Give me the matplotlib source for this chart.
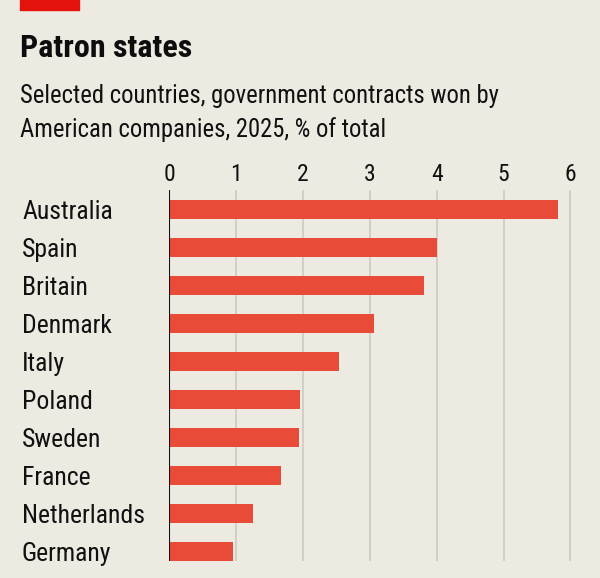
import matplotlib
matplotlib.use("Agg")
from matplotlib import pyplot as plt
from matplotlib import font_manager
from matplotlib.patches import Rectangle

countries = ["Australia", "Spain", "Britain", "Denmark", "Italy",
             "Poland", "Sweden", "France", "Netherlands", "Germany"]
shares = [5.81, 4.00, 3.81, 3.06, 2.54, 1.96, 1.94, 1.67, 1.25, 0.95]
xticks = [0, 1, 2, 3, 4, 5, 6]


def pick_font(names):
    for n in names:
        try:
            font_manager.findfont(n, fallback_to_default=False)
            return n
        except ValueError:
            continue
    return "DejaVu Sans"


font = pick_font(["Liberation Sans Narrow", "Roboto Condensed", "Liberation Sans"])
plt.rcParams["font.family"] = [font, "DejaVu Sans"]

BG = "#ECEAE1"
BAR = "#E84B37"
TEXT = "#111111"

W, H = 600, 578
fig = plt.figure(figsize=(W / 100, H / 100), dpi=100, facecolor=BG)

# axes: data 0 at x=169.5px, 66.83 px per unit; top 190px, bottom 561px
x0, unit = 169.5, 66.83
xmax = 6.03
ax = fig.add_axes([x0 / W, 1 - 561 / H, xmax * unit / W, (561 - 190) / H])
ax.set_facecolor(BG)

y = list(range(len(countries)))
ax.barh(y, shares, height=0.5, color=BAR, zorder=3)

ax.set_xlim(0, xmax)
ax.set_ylim(9.25, -0.51)
ax.set_xticks(xticks)
ax.set_xticklabels([str(t) for t in xticks])
ax.xaxis.tick_top()
ax.tick_params(axis="x", length=0, pad=3, labelsize=17, labelcolor=TEXT)
ax.grid(axis="x", color="#C9C8C0", linewidth=1.1, zorder=1)
ax.axvline(0, color="#111111", linewidth=1.5, zorder=4)

ax.set_yticks(y)
ax.set_yticklabels(countries)
ax.tick_params(axis="y", length=0, pad=(x0 - 22) * 0.72, labelsize=18.5, labelcolor=TEXT)
for lab in ax.get_yticklabels():
    lab.set_horizontalalignment("left")

for s in ax.spines.values():
    s.set_visible(False)

# red tag at top left
fig.patches.append(Rectangle((19.5 / W, 1 - 10 / H), 59 / W, 10 / H,
                             transform=fig.transFigure, color="#E3120B"))

fig.text(20 / W, 1 - 56.7 / H, "Patron states", fontsize=23, fontweight="bold",
         color="#0D0D0D", va="baseline", ha="left")
fig.text(20 / W, 1 - 103.3 / H, "Selected countries, government contracts won by",
         fontsize=17.7, color=TEXT, va="baseline", ha="left")
fig.text(20 / W, 1 - 136.7 / H, "American companies, 2025, % of total",
         fontsize=17.7, color=TEXT, va="baseline", ha="left")

fig.savefig("out.png", dpi=100, facecolor=BG)
